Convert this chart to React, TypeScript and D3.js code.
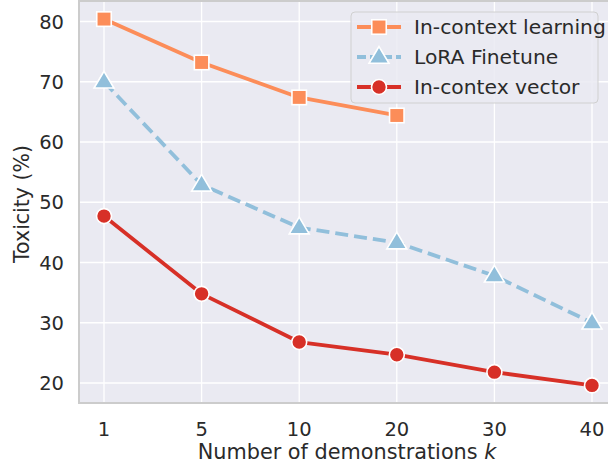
import React from "react";
import * as d3 from "d3";

const categories = ["1", "5", "10", "20", "30", "40"];
const iclValues = [80.4, 73.2, 67.4, 64.4];
const loraValues = [70.0, 52.9, 45.8, 43.3, 37.8, 30.0];
const vectorValues = [47.7, 34.8, 26.8, 24.7, 21.8, 19.6];
const yTicks = [20, 30, 40, 50, 60, 70, 80];

const series = [
  { name: "In-context learning", values: iclValues, color: "#fc8d59", marker: "square", dash: "" },
  { name: "LoRA Finetune", values: loraValues, color: "#91bfdb", marker: "triangle", dash: "13,6" },
  { name: "In-contex vector", values: vectorValues, color: "#d73027", marker: "circle", dash: "" },
];

const W = 608;
const H = 463;
const plot = { left: 79, top: 1, right: 617, bottom: 403 };
const font = "DejaVu Sans, sans-serif";
const textColor = "#2a2a2a";

function Marker({ type, x, y, color }: { type: string; x: number; y: number; color: string }) {
  if (type === "square") {
    const s = 14.5;
    return <rect x={x - s / 2} y={y - s / 2} width={s} height={s} fill={color} stroke="#fff" strokeWidth={1.6} />;
  }
  if (type === "triangle") {
    const r = 10.5;
    const pts = [
      [x, y - r],
      [x - r * 0.95, y + r * 0.6],
      [x + r * 0.95, y + r * 0.6],
    ];
    return <polygon points={pts.map((p) => p.join(",")).join(" ")} fill={color} stroke="#fff" strokeWidth={1.6} />;
  }
  return <circle cx={x} cy={y} r={7.5} fill={color} stroke="#fff" strokeWidth={1.6} />;
}

export default function App() {
  const x = d3.scalePoint<string>().domain(categories).range([104, 592]);
  const y = d3.scaleLinear().domain([20, 80]).range([383, 21.5]);
  const line = d3
    .line<number>()
    .x((_, i) => x(categories[i]) as number)
    .y((d) => y(d));

  return (
    <svg width={W} height={H} style={{ position: "absolute", left: 0, top: 0 }}>
      <defs>
        <clipPath id="plotclip">
          <rect x={plot.left} y={plot.top} width={plot.right - plot.left} height={plot.bottom - plot.top} />
        </clipPath>
      </defs>
      <rect x={plot.left} y={plot.top} width={plot.right - plot.left} height={plot.bottom - plot.top} fill="#eaeaf2" stroke="#cccccc" strokeWidth={2} />
      {categories.map((c) => (
        <line key={c} x1={x(c)} x2={x(c)} y1={plot.top + 1} y2={plot.bottom - 1} stroke="#fff" strokeWidth={1.3} />
      ))}
      {yTicks.map((t) => (
        <line key={t} x1={plot.left + 1} x2={plot.right} y1={y(t)} y2={y(t)} stroke="#fff" strokeWidth={1.3} />
      ))}
      <g clipPath="url(#plotclip)">
        {series.map((s) => (
          <path key={s.name} d={line(s.values) || ""} fill="none" stroke={s.color} strokeWidth={3.8} strokeDasharray={s.dash} strokeLinejoin="round" />
        ))}
        {series.map((s) =>
          s.values.map((v, i) => <Marker key={s.name + i} type={s.marker} x={x(categories[i]) as number} y={y(v)} color={s.color} />)
        )}
      </g>
      {yTicks.map((t) => (
        <text key={t} x={64} y={y(t)} dy="0.36em" textAnchor="end" fontFamily={font} fontSize={19.5} fill={textColor}>
          {t}
        </text>
      ))}
      {categories.map((c) => (
        <text key={c} x={x(c)} y={436} textAnchor="middle" fontFamily={font} fontSize={19.5} fill={textColor}>
          {c}
        </text>
      ))}
      <text x={347} y={459} textAnchor="middle" fontFamily={font} fontSize={20.8} fill={textColor}>
        Number of demonstrations <tspan fontStyle="italic">k</tspan>
      </text>
      <text transform="translate(29,204) rotate(-90)" textAnchor="middle" fontFamily={font} fontSize={20.5} fill={textColor}>
        Toxicity (%)
      </text>
      <g>
        <rect x={351} y={12} width={247} height={91} rx={4} fill="#eaeaf2" fillOpacity={0.85} stroke="#d0d0d0" strokeWidth={1} />
        {series.map((s, i) => {
          const ly = 27 + i * 30;
          return (
            <g key={s.name}>
              <line x1={357} x2={401} y1={ly} y2={ly} stroke={s.color} strokeWidth={3.8} strokeDasharray={s.dash ? "9,4" : ""} />
              <Marker type={s.marker} x={379} y={ly} color={s.color} />
              <text x={414} y={ly} dy="0.36em" fontFamily={font} fontSize={20.3} fill={textColor}>
                {s.name}
              </text>
            </g>
          );
        })}
      </g>
    </svg>
  );
}
